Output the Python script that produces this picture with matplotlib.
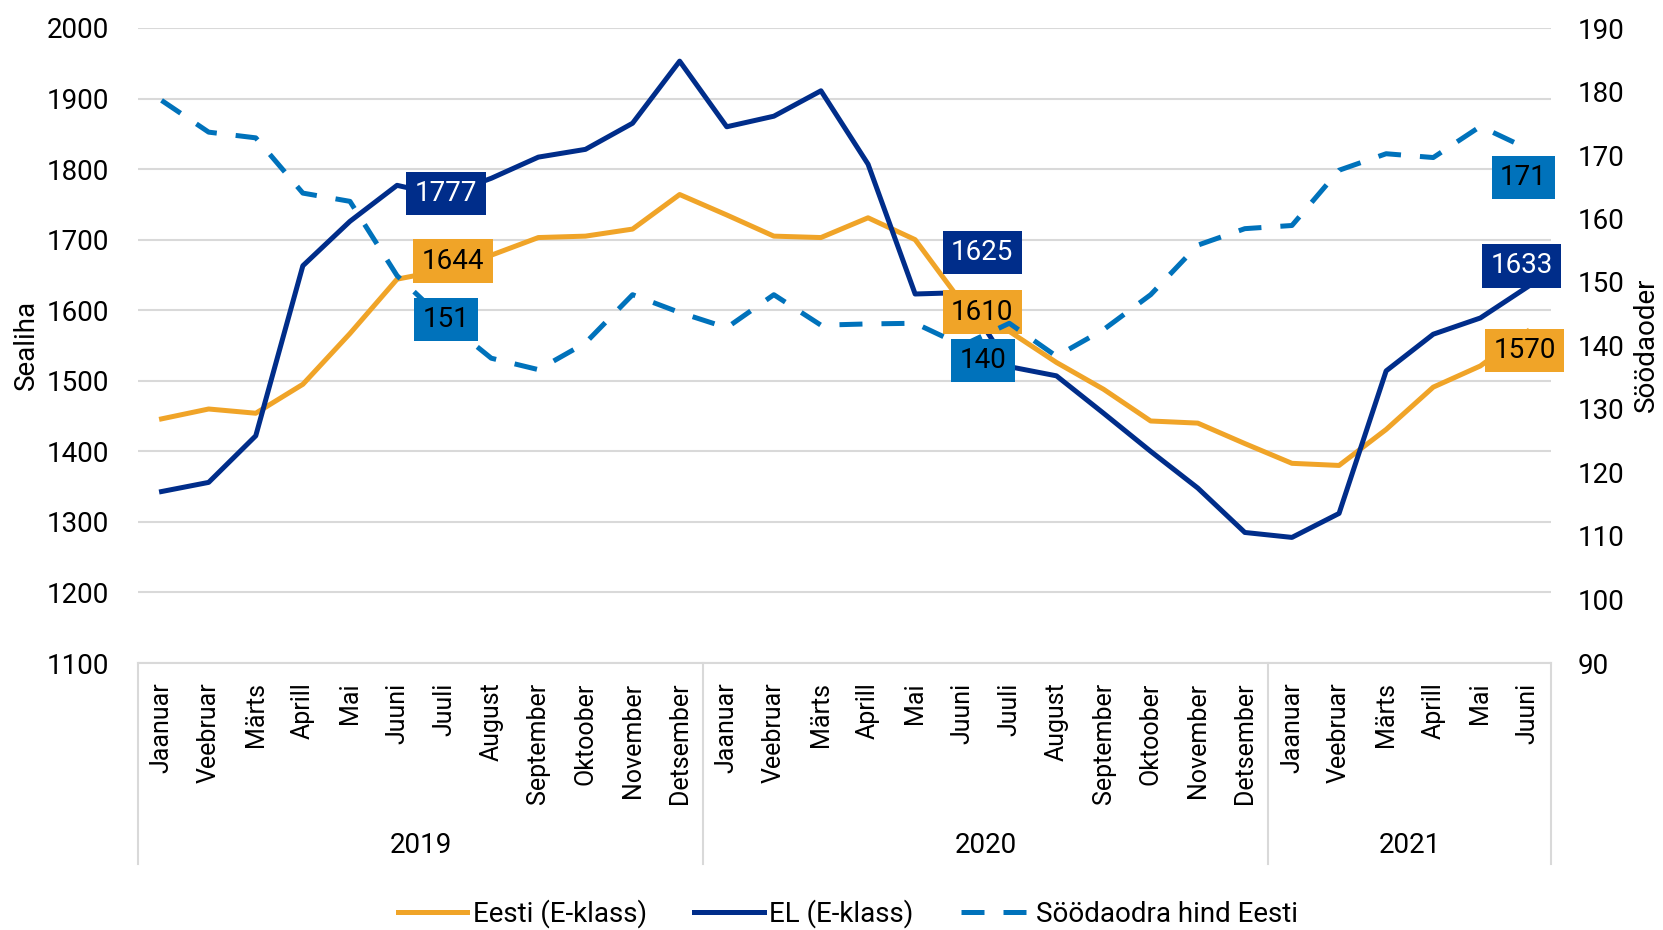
import numpy as np
import matplotlib
matplotlib.use('Agg')
import matplotlib.pyplot as plt
import matplotlib.transforms as mtransforms
from matplotlib import font_manager

# pick a narrow font if there is one
FONT = 'Roboto'
for cand in ['Liberation Sans Narrow', 'Roboto']:
    try:
        font_manager.findfont(cand, fallback_to_default=False)
        FONT = cand
        break
    except Exception:
        pass
plt.rcParams['font.family'] = [FONT, 'DejaVu Sans']

months_2019 = ['Jaanuar', 'Veebruar', 'Märts', 'Aprill', 'Mai', 'Juuni', 'Juuli',
               'August', 'September', 'Oktoober', 'November', 'Detsember']
months_2021 = months_2019[:6]
months = months_2019 + months_2019 + months_2021
years = ['2019', '2020', '2021']
year_len = [12, 12, 6]

eesti = [1446, 1460, 1454, 1495, 1567, 1644, 1657, 1678, 1703, 1705, 1715, 1764,
         1735, 1705, 1703, 1731, 1700, 1610, 1570, 1526, 1488, 1443, 1440, 1411,
         1383, 1380, 1431, 1491, 1521, 1570]
el = [1343, 1356, 1422, 1663, 1726, 1777, 1762, 1787, 1817, 1828, 1865, 1953,
      1860, 1875, 1911, 1807, 1623, 1625, 1520, 1507, 1454, 1400, 1348, 1285,
      1278, 1312, 1514, 1566, 1589, 1633]
feed = [178.6, 173.6, 172.7, 164.0, 162.7, 151, 144.0, 138.0, 136.2, 140.4, 148.0, 145.2,
        142.8, 148.0, 143.2, 143.4, 143.5, 140, 143.5, 138.3, 142.5, 148.0, 155.8, 158.4,
        158.9, 167.6, 170.2, 169.6, 174.5, 171]

C_EE = '#F0A428'
C_EL = '#002D8A'
C_FD = '#0072BB'
GRID = '#D9D9D9'
FS = 20

W, H = 1663, 930
fig = plt.figure(figsize=(W / 100, H / 100), dpi=100)
ax = fig.add_axes([138 / W, 1 - 663 / H, (1551 - 138) / W, (663 - 28) / H])
ax2 = ax.twinx()

x = np.arange(len(months))
ax.plot(x, eesti, color=C_EE, lw=3.6, label='Eesti (E-klass)', zorder=3)
ax.plot(x, el, color=C_EL, lw=3.6, label='EL (E-klass)', zorder=3)
ax2.plot(x, feed, color=C_FD, lw=3.6, dashes=(4.6, 3.8), label='Söödaodra hind Eesti', zorder=3)

ax.set_xlim(-0.5, len(months) - 0.5)
ax.set_ylim(1100, 2000)
ax.set_yticks(np.arange(1100, 2001, 100))
ax2.set_ylim(90, 190)
ax2.set_yticks(np.arange(90, 191, 10))
ax.grid(axis='y', color=GRID, lw=1.5, zorder=0)
ax.set_axisbelow(True)

for a in (ax, ax2):
    for s in ['top', 'left', 'right', 'bottom']:
        a.spines[s].set_visible(False)
    a.tick_params(length=0, labelsize=FS)
ax.tick_params(axis='y', pad=21)
ax2.tick_params(axis='y', pad=19)
ax.set_xticks(x)
ax.set_xticklabels(months, rotation=90, fontsize=18)
ax.tick_params(axis='x', pad=14)
ax.spines['bottom'].set_visible(True)
ax.spines['bottom'].set_color(GRID)
ax.spines['bottom'].set_linewidth(1.5)

# year group labels and separators
trans = mtransforms.blended_transform_factory(ax.transData, ax.transAxes)
ah = 663 - 28
sep_y = -(864 - 663) / ah
yr_y = -(845 - 663) / ah
start = -0.5
for yr, n in zip(years, year_len):
    ax.plot([start, start], [0, sep_y], transform=trans, color=GRID, lw=1.5, clip_on=False)
    ax.text(start + n / 2, yr_y, yr, transform=trans, ha='center', va='center', fontsize=FS)
    start += n
ax.plot([start, start], [0, sep_y], transform=trans, color=GRID, lw=1.5, clip_on=False)

fig.text(26 / W, 1 - 345 / H, 'Sealiha', rotation=90, ha='center', va='center', fontsize=FS)
fig.text(1646 / W, 1 - 345 / H, 'Söödaoder', rotation=90, ha='center', va='center', fontsize=FS)

# data labels (index, axis, value, colour, text colour, dx, dy in pixels)
labels = [
    (5, ax, el, C_EL, 'white', 49, -8),
    (5, ax, eesti, C_EE, 'black', 56, 18),
    (5, ax2, feed, C_FD, 'black', 49, -44),
    (17, ax, el, C_EL, 'white', 20, 40),
    (17, ax, eesti, C_EE, 'black', 20, -9),
    (17, ax2, feed, C_FD, 'black', 21, -15),
    (29, ax, el, C_EL, 'white', -6, 21),
    (29, ax, eesti, C_EE, 'black', -3, -19),
    (29, ax2, feed, C_FD, 'black', -4, -29),
]
for i, a, vals, bg, tc, dx, dy in labels:
    v = vals[i]
    txt = '%d' % round(v)
    a.annotate(txt, (i, v), xytext=(dx, dy), textcoords='offset pixels',
               ha='center', va='center', fontsize=FS, color=tc, zorder=10,
               bbox=dict(boxstyle='square,pad=0.3', fc=bg, ec='none'),
               annotation_clip=False)

h1, l1 = ax.get_legend_handles_labels()
h2, l2 = ax2.get_legend_handles_labels()
fig.legend(h1 + h2, l1 + l2, loc='center', bbox_to_anchor=(848 / W, 1 - 914 / H),
           ncol=3, frameon=False, fontsize=FS, handlelength=2.5, handletextpad=0.2,
           columnspacing=1.7)

fig.savefig('out.png', dpi=100)
